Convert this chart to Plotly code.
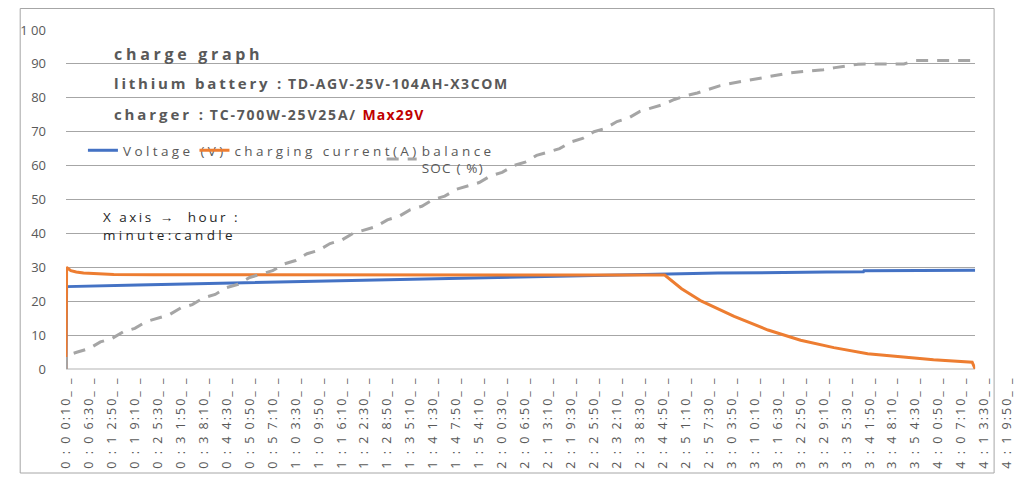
import plotly.graph_objects as go

# ---------------- data ----------------
TICK_LABELS = [
    "0 : 0 0:10", "0 : 0 6:30", "0 : 1 2:50", "0 : 1 9:10", "0 : 2 5:30", "0 : 3 1:50",
    "0 : 3 8:10", "0 : 4 4:30", "0 : 5 0:50", "0 : 5 7:10", "1 : 0 3:30", "1 : 0 9:50",
    "1 : 1 6:10", "1 : 2 2:30", "1 : 2 8:50", "1 : 3 5:10", "1 : 4 1:30", "1 : 4 7:50",
    "1 : 5 4:10", "2 : 0 0:30", "2 : 0 6:50", "2 : 1 3:10", "2 : 1 9:30", "2 : 2 5:50",
    "2 : 3 2:10", "2 : 3 8:30", "2 : 4 4:50", "2 : 5 1:10", "2 : 5 7:30", "3 : 0 3:50",
    "3 : 1 0:10", "3 : 1 6:30", "3 : 2 2:50", "3 : 2 9:10", "3 : 3 5:30", "3 : 4 1:50",
    "3 : 4 8:10", "3 : 5 4:30", "4 : 0 0:50", "4 : 0 7:10", "4 : 1 3:30", "4 : 1 9:50",
]

Y_TICKS = [0, 10, 20, 30, 40, 50, 60, 70, 80, 90, 100]
Y_TICK_TEXT = ["0", "10", "20", "30", "40", "50", "60", "70", "80", "90", "1 00"]

voltage_time = ["0:00:10", "0:00:20", "0:20:00", "1:00:00", "1:40:00", "2:20:00",
                "2:45:20", "3:00:00", "3:30:00", "3:40:10", "3:40:20", "4:11:00"]
voltage_v = [0, 24.3, 24.8, 25.7, 26.6, 27.4, 28.0, 28.3, 28.6, 28.7, 29.0, 29.1]

current_time = ["0:00:10", "0:00:20", "0:01:30", "0:03:00", "0:05:00", "0:09:10", "0:13:20",
                "0:24:20", "1:16:30", "2:28:00", "2:45:20", "2:50:00", "2:55:30", "3:04:30",
                "3:13:50", "3:22:50", "3:32:00", "3:41:20", "3:50:20", "3:59:30", "4:10:10",
                "4:11:00"]
current_a = [0, 30.0, 29.0, 28.6, 28.3, 28.0, 27.9, 27.8, 27.8, 27.7, 27.7, 23.7, 20.0, 15.5,
             11.5, 8.5, 6.3, 4.5, 3.5, 2.7, 2.0, 0]

soc_time = ["0:00:10", "0:00:20", "0:03:20", "0:06:30", "0:09:40", "0:12:50", "0:16:00",
            "0:19:10", "0:22:20", "0:25:30", "0:28:40", "0:31:50", "0:35:00", "0:38:10",
            "0:41:20", "0:44:30", "0:47:40", "0:50:50", "0:54:00", "0:57:10", "1:00:20",
            "1:03:30", "1:06:40", "1:09:50", "1:13:00", "1:16:10", "1:19:20", "1:22:30",
            "1:25:40", "1:28:50", "1:32:00", "1:35:10", "1:38:20", "1:41:30", "1:44:40",
            "1:47:50", "1:51:00", "1:54:10", "1:57:20", "2:00:30", "2:03:40", "2:06:50",
            "2:10:00", "2:13:10", "2:16:20", "2:19:30", "2:22:40", "2:25:50", "2:29:00",
            "2:32:10", "2:35:20", "2:38:30", "2:41:40", "2:44:50", "2:48:00", "2:51:10",
            "2:54:20", "2:57:30", "3:00:40", "3:03:50", "3:07:00", "3:10:10", "3:13:20",
            "3:16:30", "3:19:40", "3:22:50", "3:26:00", "3:29:10", "3:32:20", "3:35:30",
            "3:38:40", "3:41:50", "3:45:00", "3:48:10", "3:51:20", "3:54:30", "3:57:40",
            "4:00:50", "4:04:00", "4:07:10", "4:10:20", "4:11:00"]
soc_pct = [0, 4, 5, 6, 8, 9, 11, 12, 14, 15, 16, 18, 19, 21, 22, 24, 25, 27, 28, 29, 31,
           32, 34, 35, 37, 38, 40, 41, 42, 44, 45, 47, 48, 50, 51, 53, 54, 55, 57, 58, 60,
           61, 63, 64, 65, 67, 68, 70, 71, 73, 74, 76, 77, 78, 79.5, 80.6, 81.4, 82.5, 83.6,
           84.3, 84.9, 85.6, 86.3, 86.8, 87.3, 87.7, 88.0, 88.3, 88.9, 89.3, 89.9, 90, 90,
           90, 90, 91, 91, 91, 91, 91, 91, 91]


def sec(s):
    h, m, x = s.replace(" ", "").split(":")
    return int(h) * 3600 + int(m) * 60 + int(x)


# ---------------- geometry (page is offset by the 8px body margin) ----------------
FIG_W, FIG_H = 1030, 483
ML, MR, MT, MB = 54, 18, 22, 122
PW = FIG_W - ML - MR
PH = FIG_H - MT - MB
SCR_L = ML + 8            # plot-area left edge, in screenshot pixels
SCR_B = FIG_H - MB + 8    # plot-area bottom edge, in screenshot pixels
T0 = sec(voltage_time[0])
T_END = sec(current_time[-1])
DATA_PX = 913             # pixel width of the data area
PX_PER_S = DATA_PX / (T_END - T0)


def px_x(sx):
    return (sx - SCR_L) / PW


def px_y(sy):
    return (SCR_B - sy) / PH


GRAY_TXT = "#595959"


def SP(txt, ls):
    return "<span style='letter-spacing:%spx'>%s</span>" % (ls, txt)


fig = go.Figure()
fig.add_trace(go.Scatter(x=[sec(t) for t in voltage_time], y=voltage_v, mode="lines",
                         name=SP("Voltage (V)", 3.4), hoverinfo="skip", legend="legend",
                         line=dict(color="#4472C4", width=3)))
fig.add_trace(go.Scatter(x=[sec(t) for t in current_time], y=current_a, mode="lines",
                         name=SP("charging current(A)", 3.4), hoverinfo="skip",
                         legend="legend2", line=dict(color="#ED7D31", width=3)))
fig.add_trace(go.Scatter(x=[sec(t) for t in soc_time], y=soc_pct, mode="lines",
                         name=SP("balance", 3.4) + "<br>" + SP("SOC ( %)", 1.2),
                         hoverinfo="skip", legend="legend3",
                         line=dict(color="#A5A5A5", width=3, dash="12px,9px")))

tick_vals = [sec(t) for t in TICK_LABELS]
tick_text = [SP(t + "_ _", 2.0) for t in TICK_LABELS]

# carrier for the category-label axis (no visible marks)
fig.add_trace(go.Scatter(x=tick_vals, y=[0.5] * len(tick_vals), xaxis="x2", yaxis="y3",
                         mode="markers", marker=dict(opacity=0), showlegend=False,
                         hoverinfo="skip"))

LEG = dict(orientation="h", yanchor="top", xanchor="left", bgcolor="rgba(0,0,0,0)",
           font=dict(size=13.5, color=GRAY_TXT), itemwidth=30)

fig.update_layout(
    width=FIG_W, height=FIG_H,
    margin=dict(l=ML, r=MR, t=MT, b=MB, pad=0),
    paper_bgcolor="white", plot_bgcolor="rgba(0,0,0,0)",
    font=dict(family="Open Sans, DejaVu Sans, sans-serif", color=GRAY_TXT, size=12),
    xaxis=dict(domain=[0, DATA_PX / PW], range=[T0, T_END], showticklabels=False,
               showgrid=False, zeroline=False, showline=False, ticks=""),
    xaxis2=dict(domain=[0, 1], range=[T0, T0 + PW / PX_PER_S], anchor="y3",
                tickmode="array", tickvals=tick_vals, ticktext=tick_text,
                tickangle=-90, showgrid=False, zeroline=False, showline=False, ticks="",
                ticklabelstandoff=4,
                tickfont=dict(family="Open Sans, sans-serif", size=12.5, color=GRAY_TXT)),
    yaxis=dict(range=[0, 100], tickmode="array", tickvals=Y_TICKS, ticktext=Y_TICK_TEXT,
               showgrid=True, gridcolor="#a6a6a6", gridwidth=1,
               zeroline=True, zerolinecolor="#d9d9d9", zerolinewidth=2,
               showline=False, ticks="", ticklabelstandoff=19,
               tickfont=dict(size=13, color=GRAY_TXT)),
    yaxis3=dict(domain=[0, 1], range=[0, 1], visible=False, anchor="x2"),
    showlegend=True,
    legend=dict(LEG, x=px_x(79), y=px_y(135)),
    legend2=dict(LEG, x=px_x(191), y=px_y(135)),
    legend3=dict(LEG, x=px_x(379), y=px_y(135)),
)

# outer chart frame
fig.add_shape(type="rect", xref="paper", yref="paper",
              x0=px_x(16), x1=px_x(994), y0=px_y(473), y1=px_y(8.5),
              line=dict(color="#a6a6a6", width=1), fillcolor="rgba(0,0,0,0)", layer="below")

anns = [
    (108, 54, "<b>" + SP("charge graph", 3.7) + "</b>", 16, "#595959"),
    (108, 83, "<b>" + SP("lithium battery :", 2.8) + " <span style='font-size:14px'>"
     + SP("TD-AGV-25V-104AH-X3COM", 1.6) + "</span></b>", 15, "#595959"),
    (108, 114, "<b>" + SP("charger :", 2.9) + " <span style='font-size:14px'>"
     + SP("TC-700W-25V25A/ ", 1.8) + "<span style='color:#C00000'>"
     + SP("Max29V", 1.2) + "</span></span></b>", 15, "#595959"),
    (97, 217, SP("X axis →  hour :", 2.5), 13.5, "#262626"),
    (97, 235, SP("minute:candle", 3.3), 13.5, "#262626"),
]
for x, y, txt, size, col in anns:
    fig.add_annotation(xref="paper", yref="paper", x=px_x(x), y=px_y(y),
                       xanchor="left", yanchor="middle", showarrow=False, text=txt,
                       font=dict(size=size, color=col, family="Open Sans, sans-serif"))

fig.write_html("out.html")
